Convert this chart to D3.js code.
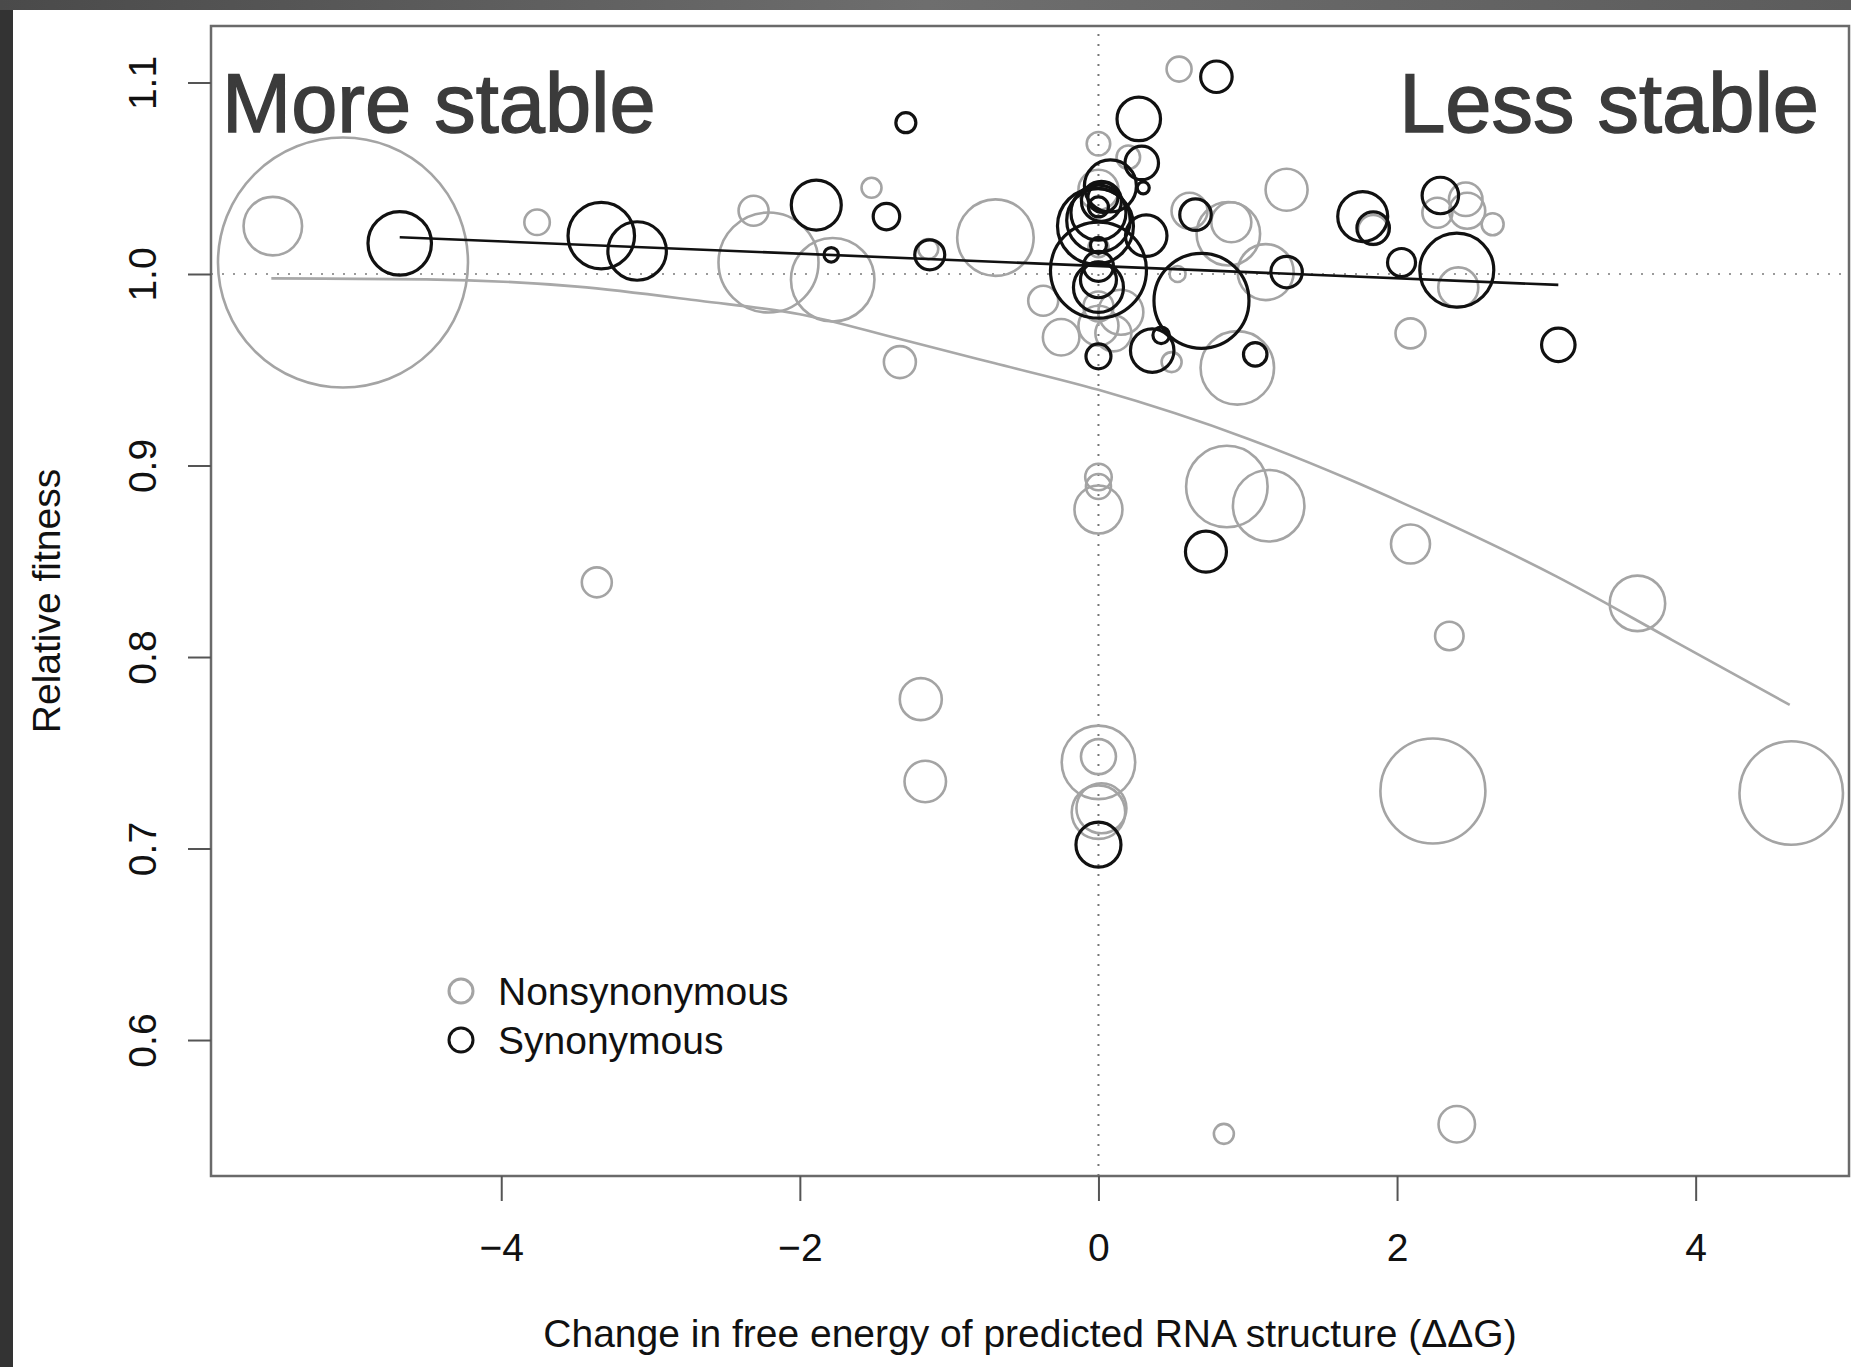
<!DOCTYPE html>
<html>
<head>
<meta charset="utf-8">
<script src="https://cdn.jsdelivr.net/npm/d3@7"></script>
<style>
body { margin: 0; background: #fff; overflow: hidden; }
text { font-family: "Liberation Sans", Arial, Helvetica, sans-serif; }
</style>
</head>
<body>
<div id="chart"></div>
<script>
// tick values
const xTicks = [-4, -2, 0, 2, 4];
const yTicks = [0.6, 0.7, 0.8, 0.9, 1.0, 1.1];

// [ddG, relative fitness, weight]  -- nonsynonymous (grey)
const nonsyn = [
  [-5.06, 1.006, 50], [-5.53, 1.025, 11.7], [-3.76, 1.027, 5.1], [-2.31, 1.033, 6],
  [-2.21, 1.006, 20], [-1.78, 0.997, 16.7], [-1.52, 1.045, 4], [-0.69, 1.019, 15.3],
  [-1.33, 0.954, 6.4], [-1.14, 1.013, 4], [-3.36, 0.839, 6], [-1.19, 0.778, 8.4],
  [-1.16, 0.735, 8.3], [0, 0.894, 5.3], [0, 0.889, 5], [0, 0.877, 9.6],
  [0, 0.745, 14.7], [0, 0.748, 7], [0, 0.719, 10.7], [0.02, 0.721, 10],
  [0.86, 0.889, 16.3], [1.14, 0.879, 14.3], [2.09, 0.859, 7.8], [2.35, 0.811, 5.7],
  [3.61, 0.828, 11.1], [2.24, 0.730, 21], [4.64, 0.729, 20.7], [0.84, 0.551, 4],
  [2.40, 0.556, 7.3], [0.54, 1.107, 5], [0, 1.068, 4.7], [0.20, 1.061, 4.7],
  [0, 1.044, 8], [0, 1.014, 4], [0, 0.983, 6], [0, 0.973, 8],
  [-0.37, 0.986, 6], [-0.25, 0.967, 7.3], [0.10, 0.969, 7.2], [0.49, 0.954, 4],
  [0.61, 1.033, 7.2], [0.89, 1.027, 8], [0.87, 1.021, 12.7], [0.93, 0.951, 14.7],
  [1.26, 1.044, 8.4], [1.12, 1.001, 11.2], [0.53, 1.000, 3.2], [1.84, 1.023, 6],
  [2.27, 1.032, 6], [2.46, 1.039, 6.7], [2.47, 1.033, 7.2], [2.64, 1.026, 4.4],
  [2.41, 0.993, 8], [2.09, 0.969, 6], [0.15, 0.980, 9]
];

// synonymous (black)
const syn = [
  [-4.68, 1.016, 12.7], [-3.33, 1.020, 13.3], [-3.09, 1.012, 11.7], [-1.89, 1.036, 10],
  [-1.79, 1.010, 2.9], [-1.42, 1.030, 5.3], [-1.13, 1.010, 6], [-1.29, 1.079, 4],
  [0.79, 1.103, 6.3], [0.27, 1.081, 8.7], [0.29, 1.058, 6.7], [0.08, 1.046, 10.4],
  [0.30, 1.045, 2.4], [0, 1.032, 11], [0, 1.028, 12.7], [0, 1.035, 4],
  [-0.02, 1.025, 15.2], [0, 1.002, 19.2], [0, 1.004, 6], [0, 0.993, 10],
  [0, 0.997, 7.2], [0, 1.015, 3.2], [0, 0.957, 5], [0.32, 1.020, 8.3],
  [0.36, 0.960, 8.7], [0.42, 0.968, 3.3], [0.69, 0.986, 19], [0.65, 1.031, 6.3],
  [1.05, 0.958, 4.7], [1.26, 1.001, 6.3], [1.77, 1.030, 10], [1.84, 1.024, 6.5],
  [2.29, 1.041, 7.3], [2.03, 1.006, 5.6], [2.40, 1.002, 14.8], [3.08, 0.963, 6.7],
  [0.72, 0.855, 8.2], [0, 0.702, 9], [0.02, 1.038, 8], [0.03, 1.040, 6]
];

// fitted lines
const synFitX = [-4.68, 3.08];
const synFitY = [1.0192, 0.9943];
const nonsynFitX = [-5.54, -4.5, -3.49, -2.67, -2.0, -1.33, -0.7, 0.0, 1.0, 1.69, 2.05, 3.07, 3.84, 4.63];
const nonsynFitY = [0.9977, 0.9972, 0.9934, 0.986, 0.979, 0.966, 0.9535, 0.9395, 0.914, 0.8924, 0.880, 0.842, 0.809, 0.775];

const legendLabels = ["Nonsynonymous", "Synonymous"];

var W = 1851, H = 1367;
var margin = {left: 211, right: 2, top: 26, bottom: 191};

var svg = d3.select("#chart").append("svg")
    .attr("width", W)
    .attr("height", H);

// dark frame + white page
var defs = svg.append("defs");
var grad = defs.append("linearGradient").attr("id", "topband").attr("x1", 0).attr("x2", 1);
grad.append("stop").attr("offset", "0%").attr("stop-color", "#4a4a4a");
grad.append("stop").attr("offset", "50%").attr("stop-color", "#6e6e6e");
grad.append("stop").attr("offset", "100%").attr("stop-color", "#5c5c5c");
svg.append("rect").attr("width", W).attr("height", H).attr("fill", "#333");
svg.append("rect").attr("width", W).attr("height", 10).attr("fill", "url(#topband)");
svg.append("rect").attr("x", 13).attr("y", 10).attr("width", W - 13).attr("height", H - 10).attr("fill", "#fff");

defs.append("clipPath").attr("id", "plotclip").append("rect")
    .attr("x", margin.left).attr("y", margin.top)
    .attr("width", W - margin.right - margin.left)
    .attr("height", H - margin.bottom - margin.top);

var x = d3.scaleLinear()
    .domain([-5.944, 5.027])
    .range([margin.left, W - margin.right]);

var y = d3.scaleLinear()
    .domain([0.529, 1.1295])
    .range([H - margin.bottom, margin.top]);

var r = d3.scaleLinear()
    .domain([0, 50])
    .range([0, 125]);

var plot = svg.append("g").attr("clip-path", "url(#plotclip)");

// reference lines (dotted)
plot.append("line")
    .attr("x1", x.range()[0]).attr("x2", x.range()[1])
    .attr("y1", y(1)).attr("y2", y(1))
    .attr("stroke", "#9a9a9a").attr("stroke-width", 2)
    .attr("stroke-dasharray", "2,9");
plot.append("line")
    .attr("x1", x(0)).attr("x2", x(0))
    .attr("y1", y.range()[0]).attr("y2", y.range()[1])
    .attr("stroke", "#777").attr("stroke-width", 2)
    .attr("stroke-dasharray", "2,8");

// circles
plot.selectAll(".ns")
    .data(nonsyn)
    .enter().append("circle")
    .attr("class", "ns")
    .attr("cx", function(d) { return x(d[0]); })
    .attr("cy", function(d) { return y(d[1]); })
    .attr("r", function(d) { return r(d[2]); })
    .attr("fill", "none")
    .attr("stroke", "#a4a4a4")
    .attr("stroke-width", 2.6);

plot.selectAll(".sy")
    .data(syn)
    .enter().append("circle")
    .attr("class", "sy")
    .attr("cx", function(d) { return x(d[0]); })
    .attr("cy", function(d) { return y(d[1]); })
    .attr("r", function(d) { return r(d[2]); })
    .attr("fill", "none")
    .attr("stroke", "#111")
    .attr("stroke-width", 3.2);

// fits
var line = d3.line()
    .x(function(d) { return x(d[0]); })
    .y(function(d) { return y(d[1]); });

plot.append("path")
    .datum(d3.zip(nonsynFitX, nonsynFitY))
    .attr("d", line.curve(d3.curveMonotoneX))
    .attr("fill", "none")
    .attr("stroke", "#a8a8a8")
    .attr("stroke-width", 2.6);

plot.append("path")
    .datum(d3.zip(synFitX, synFitY))
    .attr("d", d3.line().x(function(d) { return x(d[0]); }).y(function(d) { return y(d[1]); }))
    .attr("fill", "none")
    .attr("stroke", "#111")
    .attr("stroke-width", 2.6);

// box
svg.append("rect")
    .attr("x", x.range()[0]).attr("y", y.range()[1])
    .attr("width", x.range()[1] - x.range()[0])
    .attr("height", y.range()[0] - y.range()[1])
    .attr("fill", "none")
    .attr("stroke", "#6a6a6a")
    .attr("stroke-width", 2.5);

// x axis
var gx = svg.append("g")
    .attr("transform", "translate(0," + y.range()[0] + ")")
    .call(d3.axisBottom(x).tickValues(xTicks).tickSize(25));
gx.select(".domain").remove();
gx.selectAll("line").attr("stroke", "#555").attr("stroke-width", 2);
gx.selectAll("text")
    .attr("y", 85).attr("dy", 0)
    .attr("font-size", 39)
    .attr("fill", "#111");

// y axis
var gy = svg.append("g")
    .attr("transform", "translate(" + x.range()[0] + ",0)")
    .call(d3.axisLeft(y).tickValues(yTicks).tickSize(23).tickFormat(d3.format(".1f")));
gy.select(".domain").remove();
gy.selectAll("line").attr("stroke", "#555").attr("stroke-width", 2);
gy.selectAll("text")
    .attr("transform", "rotate(-90)")
    .attr("x", 0).attr("y", -55).attr("dy", 0)
    .attr("text-anchor", "middle")
    .attr("font-size", 39)
    .attr("fill", "#111");

// axis titles
svg.append("text")
    .attr("x", (x.range()[0] + x.range()[1]) / 2)
    .attr("y", 1347)
    .attr("text-anchor", "middle")
    .attr("font-size", 39)
    .attr("fill", "#111")
    .text("Change in free energy of predicted RNA structure (\u0394\u0394G)");

svg.append("text")
    .attr("transform", "translate(60," + (y.range()[0] + y.range()[1]) / 2 + ") rotate(-90)")
    .attr("text-anchor", "middle")
    .attr("font-size", 39)
    .attr("fill", "#111")
    .text("Relative fitness");

// corner annotations (slightly heavier than regular)
svg.append("text")
    .attr("x", 222).attr("y", 132)
    .attr("font-size", 83)
    .attr("fill", "#3b3b3b")
    .attr("stroke", "#3b3b3b").attr("stroke-width", 1.4)
    .text("More stable");
svg.append("text")
    .attr("x", 1819).attr("y", 132)
    .attr("text-anchor", "end")
    .attr("font-size", 83)
    .attr("fill", "#3b3b3b")
    .attr("stroke", "#3b3b3b").attr("stroke-width", 1.4)
    .text("Less stable");

// legend
var legend = svg.append("g").attr("transform", "translate(461,991)");
legendLabels.forEach(function(lab, i) {
    legend.append("circle")
        .attr("cx", 0).attr("cy", i * 49)
        .attr("r", 12)
        .attr("fill", "none")
        .attr("stroke", i == 0 ? "#a4a4a4" : "#111")
        .attr("stroke-width", 3);
    legend.append("text")
        .attr("x", 37).attr("y", i * 49 + 14)
        .attr("font-size", 39)
        .attr("fill", "#111")
        .text(lab);
});
</script>
</body>
</html>
